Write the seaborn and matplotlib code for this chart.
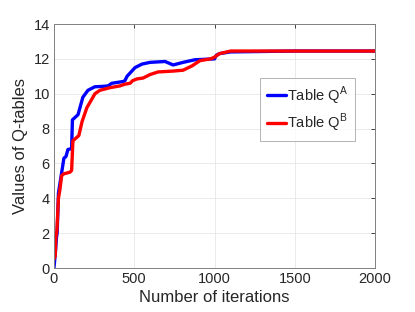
import numpy as np
import pandas as pd
import seaborn as sns
import matplotlib.pyplot as plt

# values
iters_a = [0, 10, 16, 20, 28, 45, 62, 75, 87, 110, 115, 150, 165, 180, 212, 255, 300, 337, 360, 430, 442,
           455, 505, 548, 598, 692, 742, 804, 878, 1000, 1010, 1030, 1100, 1500, 2000]
table_a = [0.0, 1.0, 1.8, 2.0, 4.3, 5.3, 6.3, 6.4, 6.8, 6.85, 8.5, 8.8, 9.3, 9.8, 10.2, 10.4, 10.42,
           10.45, 10.6, 10.7, 10.75, 11.0, 11.5, 11.7, 11.8, 11.85, 11.65, 11.8, 11.95, 12.0, 12.2, 12.3,
           12.4, 12.45, 12.45]
iters_b = [0, 8, 12, 18, 28, 37, 48, 60, 100, 110, 118, 155, 175, 205, 224, 255, 287, 350, 411, 442, 474,
           490, 517, 555, 598, 648, 742, 804, 860, 910, 975, 1000, 1030, 1100, 1500, 2000]
table_b = [0.5, 0.7, 1.8, 2.1, 4.0, 4.5, 5.3, 5.4, 5.5, 5.6, 7.3, 7.6, 8.4, 9.2, 9.5, 10.0, 10.2, 10.35,
           10.45, 10.55, 10.6, 10.75, 10.85, 10.9, 11.1, 11.25, 11.3, 11.35, 11.6, 11.9, 12.0, 12.1, 12.3,
           12.45, 12.45, 12.45]

df = pd.concat([
    pd.DataFrame({'it': iters_a, 'val': table_a, 'table': 'Table Q$^\\mathregular{A}$'}),
    pd.DataFrame({'it': iters_b, 'val': table_b, 'table': 'Table Q$^\\mathregular{B}$'}),
])

sns.set_style('whitegrid')
plt.rcParams['font.family'] = ['Liberation Sans', 'DejaVu Sans']
plt.rcParams['mathtext.fontset'] = 'custom'
plt.rcParams['mathtext.rm'] = 'Liberation Sans'

fig, ax = plt.subplots(figsize=(4.15, 3.12), dpi=100)
fig.subplots_adjust(left=0.13, right=0.904, top=0.923, bottom=0.141)

sns.lineplot(data=df, x='it', y='val', hue='table', palette=['#0000ff', '#ff0000'],
             linewidth=2.4, ax=ax, estimator=None, sort=False)

ax.set_xlim(0, 2000)
ax.set_ylim(0, 14)
ax.set_xticks([0, 500, 1000, 1500, 2000])
ax.set_yticks(np.arange(0, 15, 2))
ax.set_xlabel('Number of iterations', fontsize=12, color='#262626', labelpad=3)
ax.set_ylabel('Values of Q-tables', fontsize=12, color='#262626', labelpad=4)
ax.tick_params(labelsize=10.5, colors='#262626', direction='in', length=3, width=0.6,
               top=True, right=True, labelcolor='#262626', pad=3)
ax.grid(True, color='#e6e6e6', linewidth=0.6)
for s in ax.spines.values():
    s.set_visible(True)
    s.set_color('#808080')
    s.set_linewidth(0.7)

leg = ax.legend(loc='upper left', bbox_to_anchor=(0.62, 0.81), fontsize=10.5, frameon=True,
                fancybox=False, edgecolor='#a0a0a0', handlelength=1.3, handletextpad=0.1,
                borderpad=0.45, labelspacing=0.35)
leg.get_frame().set_linewidth(0.7)

fig.savefig('out.png', dpi=100)
